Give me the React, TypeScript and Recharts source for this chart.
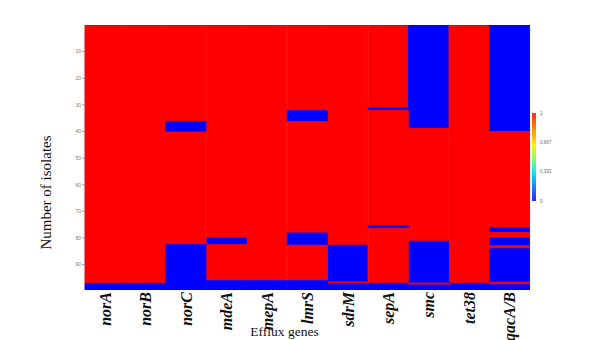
import React from "react";
import { BarChart, Bar, XAxis, YAxis, Cell } from "recharts";

// Efflux genes (categories)
const genes = ["norA", "norB", "norC", "mdeA", "mepA", "lmrS", "sdrM", "sepA", "smc", "tet38", "qacA/B"];

// Isolate ranges (in isolate units, from top) where each gene is ABSENT (value 0 -> blue)
const norAAbsent = [[97, 99.5]];
const norBAbsent = [[97, 99.5]];
const norCAbsent = [[36.2, 40.2], [82.5, 99.5]];
const mdeAAbsent = [[80, 82.5], [96, 99.5]];
const mepAAbsent = [[96, 99.5]];
const lmrSAbsent = [[32.2, 36.2], [78.1, 82.7], [96, 99.5]];
const sdrMAbsent = [[82.7, 96.5], [97.1, 99.5]];
const sepAAbsent = [[31.1, 32], [75.3, 76.3], [97, 99.5]];
const smcAbsent = [[0, 38.9], [81.2, 96.9], [97.6, 99.5]];
const tet38Absent = [[97, 99.5]];
const qacABAbsent = [[0, 40], [76.2, 77.9], [80, 82.9], [84, 96.6], [97.5, 99.5]];

const absentByGene = [
  norAAbsent, norBAbsent, norCAbsent, mdeAAbsent, mepAAbsent, lmrSAbsent,
  sdrMAbsent, sepAAbsent, smcAbsent, tet38Absent, qacABAbsent,
];

const isolateMax = 99.5;
const yTicks = [10, 20, 30, 40, 50, 60, 70, 80, 90];
const colorbarLabels = ["1", "0.667", "0.333", "0"];

const RED = "#ff0000";
const BLUE = "#0000ff";

type Seg = { len: number; present: boolean };

function segmentsOf(absent: number[][]): Seg[] {
  const segs: Seg[] = [];
  let pos = 0;
  for (const [a, b] of absent) {
    if (a > pos) segs.push({ len: a - pos, present: true });
    segs.push({ len: b - a, present: false });
    pos = b;
  }
  if (pos < isolateMax) segs.push({ len: isolateMax - pos, present: true });
  return segs;
}

const segsByGene = absentByGene.map(segmentsOf);
const maxSegs = Math.max(...segsByGene.map((s) => s.length));

const data = genes.map((g, gi) => {
  const row: any = { gene: g };
  for (let i = 0; i < maxSegs; i++) {
    row["seg" + i] = segsByGene[gi][i] ? segsByGene[gi][i].len : 0;
  }
  return row;
});

const serif = '"Liberation Serif", "Times New Roman", serif';

const GeneTick = (props: any) => {
  const { x, y, payload } = props;
  return (
    <g transform={`translate(${x},${y})`}>
      <text
        transform="rotate(-90)"
        x={-2}
        y={0}
        dy="0.35em"
        textAnchor="end"
        fontFamily={serif}
        fontWeight="bold"
        fontStyle="italic"
        fontSize={16}
        fill="#111"
      >
        {payload.value}
      </text>
    </g>
  );
};

export default function App() {
  return (
    <div style={{ position: "relative", width: 592, height: 332, background: "#fff" }}>
      <BarChart
        width={592}
        height={332}
        data={data}
        margin={{ top: 17, right: 70, bottom: 0, left: 57 }}
        barCategoryGap={0}
        barGap={0}
      >
        <XAxis
          dataKey="gene"
          type="category"
          axisLine={false}
          tickLine={false}
          tickSize={0}
          tickMargin={0}
          height={50}
          interval={0}
          tick={<GeneTick />}
        />
        <YAxis
          type="number"
          reversed
          domain={[0, isolateMax]}
          ticks={yTicks}
          allowDataOverflow
          width={20}
          axisLine={false}
          tickSize={3}
          tickMargin={1}
          tickLine={{ stroke: "#999" }}
          tick={{ fontSize: 5, fill: "#777", fontFamily: "Arial, sans-serif" }}
        />
        {Array.from({ length: maxSegs }).map((_, i) => (
          <Bar key={"seg" + i} dataKey={"seg" + i} stackId="a" isAnimationActive={false}>
            {data.map((d, gi) => {
              const s = segsByGene[gi][i];
              const c = s && !s.present ? BLUE : RED;
              return <Cell key={d.gene} fill={c} stroke={c} strokeWidth={1} />;
            })}
          </Bar>
        ))}
      </BarChart>
      <svg
        width={592}
        height={332}
        style={{ position: "absolute", left: 0, top: 0, pointerEvents: "none" }}
      >
        <defs>
          <linearGradient id="jet" x1="0" y1="0" x2="0" y2="1">
            <stop offset="0%" stopColor="#ff2a1a" />
            <stop offset="18%" stopColor="#ff8a00" />
            <stop offset="36%" stopColor="#ffee00" />
            <stop offset="52%" stopColor="#88ff66" />
            <stop offset="68%" stopColor="#00e8ff" />
            <stop offset="84%" stopColor="#1a7dff" />
            <stop offset="100%" stopColor="#2b2bff" />
          </linearGradient>
        </defs>
        <rect x={524} y={105} width={4} height={88} fill="url(#jet)" />
        {colorbarLabels.map((t, i) => (
          <text
            key={t}
            x={532}
            y={105 + (i * 88) / 3}
            dy="0.35em"
            fontSize={4.5}
            fill="#666"
            fontFamily="Arial, sans-serif"
          >
            {t}
          </text>
        ))}
        <text
          transform="translate(38,184.5) rotate(-90)"
          textAnchor="middle"
          dy="0.35em"
          fontFamily={serif}
          fontSize={15}
          fill="#111"
        >
          Number of isolates
        </text>
        <text x={276.5} y={327.5} textAnchor="middle" fontFamily={serif} fontSize={13.5} fill="#111">
          Efflux genes
        </text>
      </svg>
    </div>
  );
}
